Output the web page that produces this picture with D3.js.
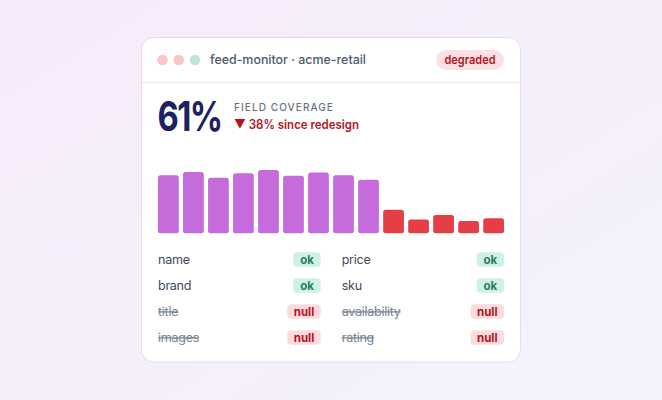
<!DOCTYPE html>
<html>
<head>
<meta charset="utf-8">
<script src="https://cdn.jsdelivr.net/npm/d3@7/dist/d3.min.js"></script>
<style>
  html, body { margin: 0; padding: 0; }
  body { width: 662px; height: 400px; overflow: hidden; font-family: Inter, "DejaVu Sans", sans-serif; }
</style>
</head>
<body>
<svg id="chart" width="662" height="400"></svg>
<script>
// ---- data ----
const headerTitle = "feed-monitor · acme-retail";
const statusLabel = "degraded";
const coverageValue = "61%";
const coverageLabel = "FIELD COVERAGE";
const deltaLabel = "▼ 38% since redesign";
const barValues = [89, 94, 85, 92, 97, 88, 93, 89, 82, 36, 21, 28, 19, 23];
const barPhase  = ["pre","pre","pre","pre","pre","pre","pre","pre","pre","post","post","post","post","post"];
const fieldsLeft = ["name", "brand", "title", "images"];
const statusLeft = ["ok", "ok", "null", "null"];
const fieldsRight = ["price", "sku", "availability", "rating"];
const statusRight = ["ok", "ok", "null", "null"];
const dotColors = ["#f8c6ca", "#f8c6ca", "#bfe4da"];

const svg = d3.select("#chart");
const defs = svg.append("defs");
const grad = defs.append("linearGradient").attr("id", "bg").attr("x1", 0).attr("y1", 0).attr("x2", 1).attr("y2", 1);
grad.append("stop").attr("offset", 0).attr("stop-color", "#f7ebfb");
grad.append("stop").attr("offset", 1).attr("stop-color", "#f4f3fc");
svg.append("rect").attr("width", 662).attr("height", 400).attr("fill", "url(#bg)");

// helper: keep text within a measured width
function fit(sel, maxW) {
  const w = sel.node().getComputedTextLength();
  if (w > maxW) sel.attr("textLength", maxW).attr("lengthAdjust", "spacingAndGlyphs");
  return sel;
}

// card
const card = { x: 141.5, y: 37.5, w: 379, h: 324.5 };
svg.append("rect").attr("x", card.x).attr("y", card.y).attr("width", card.w).attr("height", card.h)
  .attr("rx", 12).attr("fill", "#ffffff").attr("stroke", "#e4dcea").attr("stroke-width", 1);
svg.append("line").attr("x1", card.x + 0.5).attr("x2", card.x + card.w - 0.5).attr("y1", 82.5).attr("y2", 82.5)
  .attr("stroke", "#f5e6ee").attr("stroke-width", 1.6);

// header dots
const dotX = d3.scalePoint().domain(d3.range(dotColors.length)).range([162.5, 195]);
svg.selectAll("circle.dot").data(dotColors).join("circle").attr("class", "dot")
  .attr("cx", (d, i) => dotX(i)).attr("cy", 60).attr("r", 5.3).attr("fill", d => d);

fit(svg.append("text").attr("x", 210).attr("y", 60).attr("dy", "0.35em")
  .attr("font-size", 12.8).attr("font-weight", 500).attr("fill", "#4f5b6b").text(headerTitle), 156);

// degraded badge
svg.append("rect").attr("x", 436).attr("y", 50).attr("width", 68).attr("height", 20)
  .attr("rx", 10).attr("fill", "#fce1e4");
fit(svg.append("text").attr("x", 470).attr("y", 60).attr("dy", "0.35em").attr("font-size", 12).attr("font-weight", 600)
  .attr("fill", "#b3141f").attr("text-anchor", "middle").text(statusLabel), 51);

// big number
fit(svg.append("text").attr("x", 157.5).attr("y", 130.7).attr("font-size", 41.5).attr("font-weight", 700)
  .attr("letter-spacing", -2).attr("fill", "#1c2260").text(coverageValue), 64);
fit(svg.append("text").attr("x", 234).attr("y", 111).attr("font-size", 10.5).attr("font-weight", 500)
  .attr("letter-spacing", 1.1).attr("fill", "#68737f").text(coverageLabel), 100);
fit(svg.append("text").attr("x", 234).attr("y", 129).attr("font-size", 12.5).attr("font-weight", 600)
  .attr("fill", "#b3141f").text(deltaLabel), 125);

// bars
const x = d3.scaleBand().domain(d3.range(barValues.length)).range([158, 504]).paddingInner(0.17).paddingOuter(0);
const y = d3.scaleLinear().domain([0, 100]).range([233.3, 168]);
const barColor = d3.scaleOrdinal().domain(["pre", "post"]).range(["#c66bdc", "#e43f46"]);
svg.selectAll("rect.bar").data(barValues).join("rect").attr("class", "bar")
  .attr("x", (d, i) => x(i)).attr("width", x.bandwidth())
  .attr("y", d => y(d)).attr("height", d => y(0) - y(d))
  .attr("rx", 2.5).attr("fill", (d, i) => barColor(barPhase[i]));

// field rows
const rowY = d3.scalePoint().domain(d3.range(fieldsLeft.length)).range([259.5, 337.5]);
const columns = [
  { names: fieldsLeft, status: statusLeft, x0: 158, x1: 320.7 },
  { names: fieldsRight, status: statusRight, x0: 341.7, x1: 504 }
];
const badgeStyle = {
  ok:   { fill: "#cdf1e4", text: "#2c7d5c", w: 27.4 },
  null: { fill: "#fcdbdc", text: "#b3141f", w: 33.4 }
};
columns.forEach(col => {
  col.names.forEach((name, i) => {
    const st = col.status[i];
    const cy = rowY(i);
    const t0 = svg.append("text").attr("x", col.x0).attr("y", cy).attr("dy", "0.35em")
      .attr("font-size", 12.6).attr("font-weight", 400).attr("letter-spacing", -0.3)
      .attr("fill", st === "ok" ? "#3f4a5a" : "#7a8492")
      .attr("text-decoration", st === "ok" ? null : "line-through")
      .text(name);
    const g = svg.append("g");
    const w = badgeStyle[st].w;
    g.append("rect").attr("x", col.x1 - w).attr("y", cy - 7.3).attr("width", w).attr("height", 14.6).attr("rx", 4)
      .attr("fill", badgeStyle[st].fill);
    g.append("text").attr("x", col.x1 - w / 2).attr("y", cy).attr("font-size", 11.5).attr("font-weight", 700)
      .attr("fill", badgeStyle[st].text).attr("text-anchor", "middle").attr("dy", "0.35em").text(st);
  });
});
</script>
</body>
</html>
